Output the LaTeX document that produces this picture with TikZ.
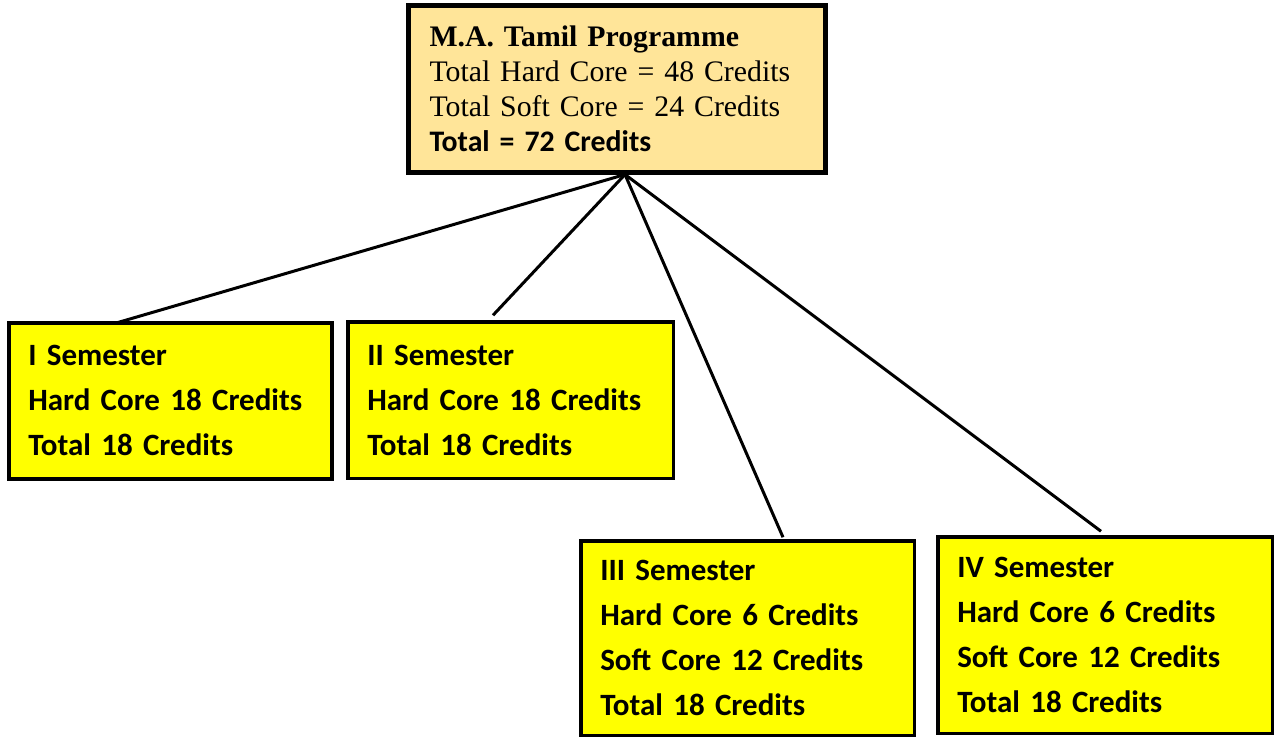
\documentclass[tikz,border=0pt]{standalone}
\usepackage{fontspec}
\setmainfont{Liberation Serif}
\newfontfamily\calib{Carlito}
\usetikzlibrary{calc}
\definecolor{topfill}{RGB}{255,229,153}
\definecolor{semfill}{RGB}{255,255,0}
\begin{document}
\begin{tikzpicture}[x=1pt,y=-1pt,
  topbox/.style={draw=black, line width=5pt, fill=topfill, anchor=north west,
    inner ysep=0pt, inner xsep=21pt, outer sep=0pt, align=left,
    font=\fontsize{29.8}{35}\selectfont},
  sembox/.style={draw=black, line width=3.5pt, fill=semfill, anchor=north west,
    inner ysep=0pt, inner xsep=19.5pt, outer sep=0pt, align=left,
    font=\calib\bfseries\fontsize{31}{45}\selectfont},
  link/.style={draw=black, line width=3pt}]
\useasboundingbox (0,0) rectangle (1278,740);
\node[topbox, minimum width=417pt, minimum height=167pt, text width=375pt] (top) at (408.5,5.5)
  {\textbf{M.A. Tamil Programme}\\Total Hard Core = 48 Credits\\Total Soft Core = 24 Credits\\{\calib\bfseries Total = 72 Credits}};
\node[sembox, minimum width=323pt, minimum height=156pt, text width=284pt] (s1) at (8.75,322.75)
  {I Semester\\Hard Core 18 Credits\\Total 18 Credits};
\node[sembox, minimum width=325.5pt, minimum height=156.5pt, text width=286.5pt] (s2) at (347.75,321.75)
  {II Semester\\Hard Core 18 Credits\\Total 18 Credits};
\node[sembox, minimum width=333.5pt, minimum height=194.5pt, text width=294.5pt] (s3) at (580.75,540.75)
  {III Semester\\Hard Core 6 Credits\\Soft Core 12 Credits\\Total 18 Credits};
\node[sembox, minimum width=334.5pt, minimum height=196.5pt, text width=295.5pt] (s4) at (937.75,536.75)
  {IV Semester\\Hard Core 6 Credits\\Soft Core 12 Credits\\Total 18 Credits};
\coordinate (hub) at ($(top.south)+(8,2)$);
\coordinate (e1) at ($(s1.north west)+(108.25,0)$);
\coordinate (e2) at ($(s2.north west)+(145.25,-6.5)$);
\coordinate (e3) at ($(s3.north west)+(202.25,-3.5)$);
\coordinate (e4) at ($(s4.north west)+(163.25,-5.5)$);
\draw[link] (hub) -- (e1);
\draw[link] (hub) -- (e2);
\draw[link] (hub) -- (e3);
\draw[link] (hub) -- (e4);
\end{tikzpicture}
\end{document}
